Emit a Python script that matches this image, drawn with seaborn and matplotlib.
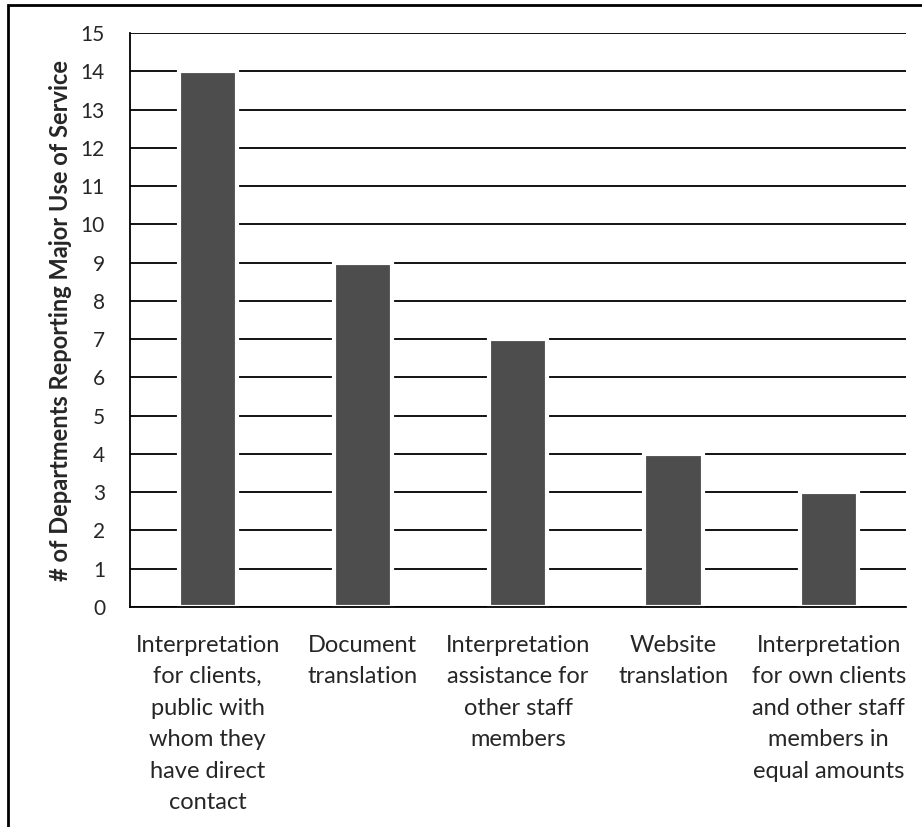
import seaborn as sns
import matplotlib.pyplot as plt
import pandas as pd
from matplotlib.patches import Rectangle

services = [
    "Interpretation\nfor clients,\npublic with\nwhom they\nhave direct\ncontact",
    "Document\ntranslation",
    "Interpretation\nassistance for\nother staff\nmembers",
    "Website\ntranslation",
    "Interpretation\nfor own clients\nand other staff\nmembers in\nequal amounts",
]
departments = [14, 9, 7, 4, 3]
yticks = list(range(0, 16))

df = pd.DataFrame({"Service": services, "Departments": departments})

sns.set_style("white")
plt.rcParams['font.family'] = ['Lato', 'DejaVu Sans']

fig = plt.figure(figsize=(9.22, 8.27), dpi=100)
ax = fig.add_axes([0.141, 0.266, 0.842, 0.694])

ax.set_axisbelow(True)
ax.yaxis.grid(True, color='black', linewidth=1.3)
sns.barplot(data=df, x="Service", y="Departments", color='#4d4d4d',
            width=0.375, edgecolor='white', linewidth=3, saturation=1, ax=ax)

ax.set_ylim(0, 15)
ax.set_yticks(yticks)
ax.set_xlim(-0.5, len(services) - 0.5)
ax.tick_params(axis='y', labelsize=15, pad=18, length=0)
ax.tick_params(axis='x', labelsize=17, pad=20, length=0)
for lab in ax.get_xticklabels():
    lab.set_linespacing(1.62)

ax.set_xlabel("")
ax.set_ylabel("# of Departments Reporting Major Use of Service",
              fontsize=17, fontweight='bold', labelpad=6)

for side in ['top', 'right']:
    ax.spines[side].set_visible(False)
ax.spines['left'].set_color('black')
ax.spines['left'].set_linewidth(1.3)
ax.spines['bottom'].set_color('black')
ax.spines['bottom'].set_linewidth(1.3)

# outer frame around the chart
fig.patches.append(Rectangle((8 / 922, -0.05), 1.2, 1 - 5 / 827 + 0.05,
                             transform=fig.transFigure, fill=False,
                             edgecolor='black', linewidth=2))

fig.savefig("out.png", dpi=100, facecolor='white')
